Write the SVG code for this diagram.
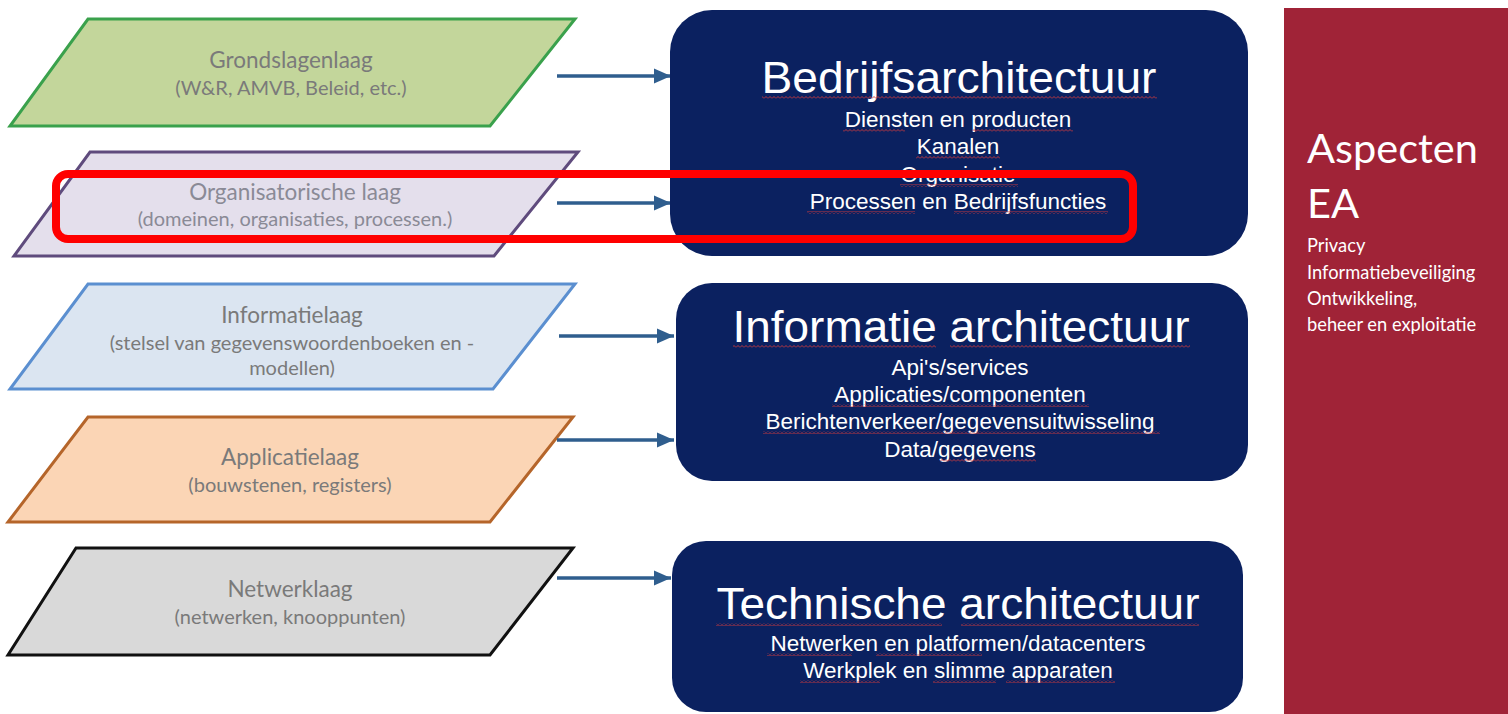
<svg xmlns="http://www.w3.org/2000/svg" width="1508" height="714" viewBox="0 0 1508 714">
<defs>
<style>
.lt{font-family:Lato,"Open Sans","Liberation Sans",sans-serif;fill:#7a7a7a;font-size:22.5px;text-anchor:middle}
.ls{font-size:20px}
.box{fill:#0b2160}
.ttl{font-family:"Liberation Sans",Arial,sans-serif;fill:#ffffff;text-anchor:middle}
.sub{font-family:"Liberation Sans",Arial,sans-serif;fill:#ffffff;font-size:22.5px;text-anchor:middle}
.conn{stroke:#2f5e8e;stroke-width:3.5;fill:none;marker-end:url(#ah)}
.asp{font-family:Lato,"Open Sans","Liberation Sans",sans-serif;fill:#ffffff}
.sq{fill:url(#sq)}
</style>
<marker id="ah" markerWidth="6" markerHeight="6" refX="5" refY="3" orient="auto" markerUnits="strokeWidth">
<path d="M0,0.8 L5,3 L0,5.2 Z" fill="#2f5e8e"/>
</marker>
<pattern id="sq" width="4" height="3" patternUnits="userSpaceOnUse">
<path d="M0,2.5 L2,0.5 L4,2.5" stroke="#d0393b" stroke-width="0.9" fill="none"/>
</pattern>
</defs>
<rect width="1508" height="714" fill="#ffffff"/>

<g id="grondslagenlaag">
<polygon points="88,19 575,19 490,126 10,126" fill="#c3d69b" stroke="#3aa14c" stroke-width="3"/>
<text class="lt" x="291" y="68">Grondslagenlaag</text>
<text class="lt ls" x="291" y="95">(W&amp;R, AMVB, Beleid, etc.)</text>
</g>

<g id="organisatorische-laag">
<polygon points="90,152 578,152 494,256 14,256" fill="#e4dfec" stroke="#5f4b7d" stroke-width="3"/>
<text class="lt" x="295" y="200" style="fill:#8a8a96">Organisatorische laag</text>
<text class="lt ls" x="295" y="226" style="fill:#8a8a96">(domeinen, organisaties, processen.)</text>
</g>

<g id="informatielaag">
<polygon points="88,284 575,284 493,389 10,389" fill="#dbe5f1" stroke="#5b8fd0" stroke-width="3"/>
<text class="lt" x="292" y="323">Informatielaag</text>
<text class="lt ls" x="292" y="350">(stelsel van gegevenswoordenboeken en -</text>
<text class="lt ls" x="292" y="375">modellen)</text>
</g>

<g id="applicatielaag">
<polygon points="88,417 573,417 490,522 8,522" fill="#fbd5b5" stroke="#b5652a" stroke-width="3"/>
<text class="lt" x="290" y="465">Applicatielaag</text>
<text class="lt ls" x="290" y="492">(bouwstenen, registers)</text>
</g>

<g id="netwerklaag">
<polygon points="76,548 573,548 490,655 8,655" fill="#d9d9d9" stroke="#111111" stroke-width="3"/>
<text class="lt" x="290" y="597">Netwerklaag</text>
<text class="lt ls" x="290" y="624">(netwerken, knooppunten)</text>
</g>

<g id="connectors">
<line class="conn" x1="557" y1="76" x2="671" y2="76"/>
<line class="conn" x1="557" y1="203" x2="671" y2="203"/>
<line class="conn" x1="559" y1="336" x2="674" y2="336"/>
<line class="conn" x1="557" y1="440" x2="674" y2="440"/>
<line class="conn" x1="557" y1="578" x2="671" y2="578"/>
</g>

<g id="bedrijfsarchitectuur">
<rect class="box" x="670" y="10" width="578" height="246" rx="42"/>
<text class="ttl" x="959" y="93" font-size="44" textLength="395" lengthAdjust="spacingAndGlyphs">Bedrijfsarchitectuur</text>
<text class="sub" x="958" y="127">Diensten en producten</text>
<text class="sub" x="958" y="154">Kanalen</text>
<text class="sub" x="958" y="182">Organisatie</text>
<text class="sub" x="958" y="209">Processen en Bedrijfsfuncties</text>
<rect class="sq" x="762" y="96" width="395" height="3"/>
<rect class="sq" x="843" y="129" width="62" height="3"/>
<rect class="sq" x="972" y="129" width="101" height="3"/>
<rect class="sq" x="916" y="156" width="84" height="3"/>
<rect class="sq" x="900" y="184" width="118" height="3"/>
<rect class="sq" x="807" y="211" width="108" height="3"/>
<rect class="sq" x="954" y="211" width="154" height="3"/>
</g>

<g id="informatie-architectuur">
<rect class="box" x="676" y="283" width="572" height="198" rx="36"/>
<text class="ttl" x="961" y="342" font-size="44" textLength="457" lengthAdjust="spacingAndGlyphs">Informatie architectuur</text>
<text class="sub" x="960" y="375">Api's/services</text>
<text class="sub" x="960" y="402">Applicaties/componenten</text>
<text class="sub" x="960" y="429">Berichtenverkeer/gegevensuitwisseling</text>
<text class="sub" x="960" y="457">Data/gegevens</text>
<rect class="sq" x="733" y="345" width="203" height="3"/>
<rect class="sq" x="950" y="345" width="240" height="3"/>
<rect class="sq" x="832" y="404" width="257" height="3"/>
<rect class="sq" x="763" y="431" width="397" height="3"/>
<rect class="sq" x="940" y="459" width="96" height="3"/>
</g>

<g id="technische-architectuur">
<rect class="box" x="672" y="541" width="571" height="171" rx="34"/>
<text class="ttl" x="958" y="619" font-size="44" textLength="483" lengthAdjust="spacingAndGlyphs">Technische architectuur</text>
<text class="sub" x="958" y="651">Netwerken en platformen/datacenters</text>
<text class="sub" x="958" y="678">Werkplek en slimme apparaten</text>
<rect class="sq" x="716" y="623" width="226" height="3"/>
<rect class="sq" x="961" y="623" width="238" height="3"/>
<rect class="sq" x="767" y="653" width="85" height="3"/>
<rect class="sq" x="876" y="653" width="106" height="3"/>
<rect class="sq" x="800" y="680" width="80" height="3"/>
<rect class="sq" x="933" y="680" width="63" height="3"/>
<rect class="sq" x="1006" y="680" width="109" height="3"/>
</g>

<g id="aspecten-ea">
<rect x="1284" y="8" width="224" height="706" fill="#a02337"/>
<text class="asp" x="1307" y="163" font-size="41.5">Aspecten</text>
<text class="asp" x="1307" y="218" font-size="41.5">EA</text>
<text class="asp" x="1307" y="252" font-size="18.3">Privacy</text>
<text class="asp" x="1307" y="279" font-size="18.3">Informatiebeveiliging</text>
<text class="asp" x="1307" y="305" font-size="18.3">Ontwikkeling,</text>
<text class="asp" x="1307" y="331" font-size="18.3">beheer en exploitatie</text>
</g>

<g id="highlight">
<rect x="56" y="174" width="1077" height="65" rx="12" fill="none" stroke="#ff0000" stroke-width="8"/>
</g>
</svg>
